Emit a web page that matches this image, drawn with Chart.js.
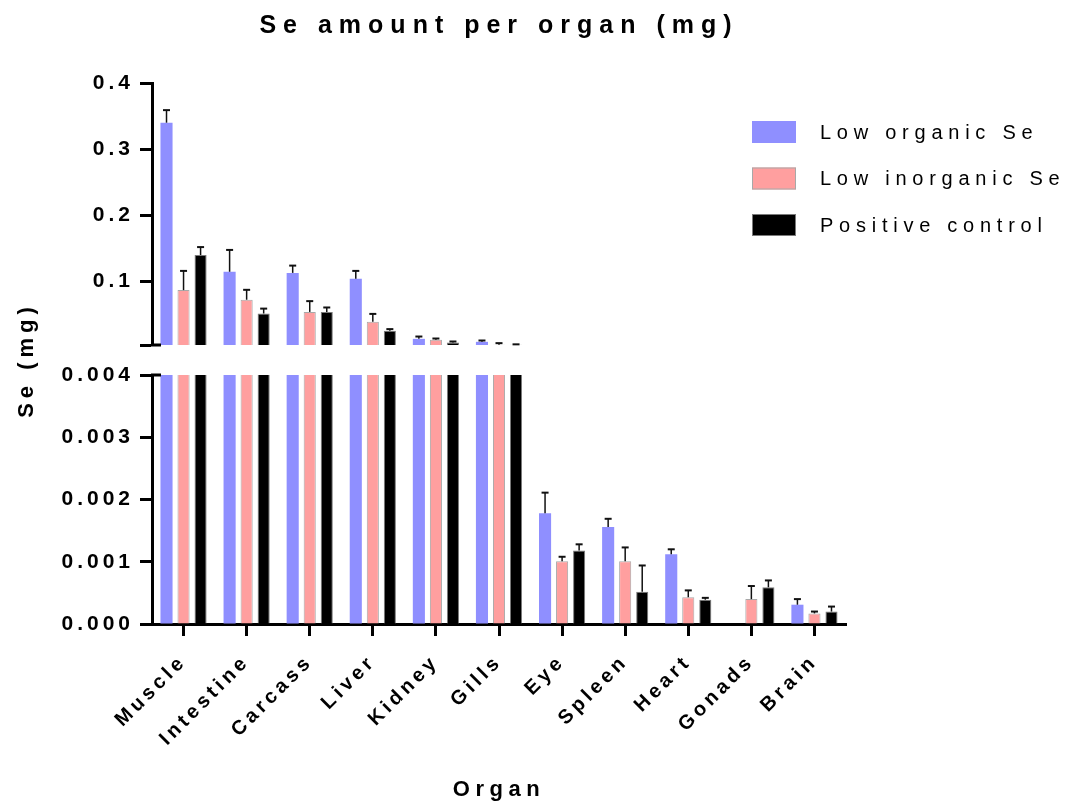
<!DOCTYPE html>
<html>
<head>
<meta charset="utf-8">
<script src="https://cdn.jsdelivr.net/npm/chart.js@4.4.0/dist/chart.umd.min.js"></script>
<style>
  html, body { margin: 0; padding: 0; background: #fff; }
  canvas { display: block; }
</style>
</head>
<body>
<canvas id="myChart" width="1077" height="804"></canvas>
<script>
// data (mg), error = upper SD whisker
const organs = ['Muscle', 'Intestine', 'Carcass', 'Liver', 'Kidney', 'Gills', 'Eye', 'Spleen', 'Heart', 'Gonads', 'Brain'];
const lowOrganic = [0.340, 0.1147, 0.113, 0.104, 0.0133, 0.0088, 0.00178, 0.00156, 0.00112, null, 0.00031];
const lowOrganicErr = [0.019, 0.033, 0.011, 0.012, 0.0035, 0.002, 0.00033, 0.00013, 0.00008, null, 0.00009];
const lowInorganic = [0.087, 0.0724, 0.054, 0.039, 0.0118, 0.0043, 0.00101, 0.00101, 0.00043, 0.00040, 0.00017];
const lowInorganicErr = [0.029, 0.015, 0.0163, 0.012, 0.002, 0.0025, 0.00007, 0.00022, 0.00011, 0.00021, 0.00003];
const positiveControl = [0.140, 0.0516, 0.0537, 0.0255, 0.0078, 0.0043, 0.00118, 0.00052, 0.00039, 0.00059, 0.0002];
const positiveControlErr = [0.012, 0.0074, 0.007, 0.0025, 0.0015, 0.0007, 0.0001, 0.00042, 0.00003, 0.00011, 0.00008];

const seriesLabels = ['Low organic Se', 'Low inorganic Se', 'Positive control'];
const seriesValues = [lowOrganic, lowInorganic, positiveControl];
const seriesErrors = [lowOrganicErr, lowInorganicErr, positiveControlErr];

// broken y axis: lower part 0..0.004, upper part 0.004..0.4
const lowTicks = [0, 0.001, 0.002, 0.003, 0.004];
const highTicks = [0.004, 0.1, 0.2, 0.3, 0.4];
const highLabels = ['', '0.1', '0.2', '0.3', '0.4'];

const fillColors = ['#8f8fff', '#ff9f9f', '#000000'];
const edgeColors = ['#8f8fff', '#a8a8a8', '#7a7a7a'];
const edgeWidths = [0, 1, 1];

const FONT = '"Liberation Sans", Arial, sans-serif';

function makeDataset(i, axis) {
    return {
        label: seriesLabels[i],
        data: seriesValues[i],
        errors: seriesErrors[i],
        yAxisID: axis,
        stack: 's' + i,
        backgroundColor: fillColors[i],
        borderColor: edgeColors[i],
        borderWidth: edgeWidths[i],
        barPercentage: 0.71,
        categoryPercentage: 0.81,
        clip: 0,
    };
}

const datasets = [0, 1, 2].map(i => makeDataset(i, 'yLow'))
    .concat([0, 1, 2].map(i => makeDataset(i, 'yHigh')));

// prism style letter spacing, a bit wider for the titles
function spaced(chart, obj, method, px) {
    if (!obj || obj['_sp_' + method]) return;
    const fn = obj[method].bind(obj);
    obj[method] = function (...args) {
        const c = chart.ctx;
        const old = c.letterSpacing;
        c.letterSpacing = px;
        fn(...args);
        c.letterSpacing = old;
    };
    obj['_sp_' + method] = true;
}

const spacing = {
    id: 'spacing',
    beforeUpdate(chart) { chart.ctx.letterSpacing = '4px'; },
    beforeDraw(chart) {
        chart.ctx.letterSpacing = '4px';
        spaced(chart, chart.titleBlock, 'draw', '7px');
        spaced(chart, chart.scales.x, 'drawTitle', '5.5px');
        spaced(chart, chart.scales.yGap, 'drawTitle', '5px');
    }
};

const errorBars = {
    id: 'errorBars',
    afterDatasetsDraw(chart) {
        const ctx = chart.ctx;
        ctx.save();
        ctx.strokeStyle = '#111';
        chart.data.datasets.forEach((ds, di) => {
            const meta = chart.getDatasetMeta(di);
            const y = chart.scales[ds.yAxisID];
            meta.data.forEach((bar, k) => {
                const v = ds.data[k];
                const e = ds.errors[k];
                if (v == null || e == null) return;
                if (v <= y.min || v > y.max) return;
                const y0 = y.getPixelForValue(v);
                const y1 = y.getPixelForValue(v + e);
                ctx.lineWidth = 1.5;
                ctx.beginPath();
                ctx.moveTo(bar.x, y0);
                ctx.lineTo(bar.x, y1);
                ctx.stroke();
                ctx.lineWidth = 2;
                ctx.beginPath();
                ctx.moveTo(bar.x - 3.5, y1);
                ctx.lineTo(bar.x + 3.5, y1);
                ctx.stroke();
            });
        });
        // little marks where the axis is broken
        const hi = chart.scales.yHigh;
        const lo = chart.scales.yLow;
        ctx.strokeStyle = '#000';
        ctx.lineWidth = 3;
        ctx.beginPath();
        ctx.moveTo(hi.right - 1, hi.bottom);
        ctx.lineTo(hi.right + 9, hi.bottom);
        ctx.moveTo(lo.right - 1, lo.top);
        ctx.lineTo(lo.right + 9, lo.top);
        ctx.stroke();
        ctx.restore();
    }
};

const boxLegend = {
    id: 'boxLegend',
    afterDraw(chart) {
        const ctx = chart.ctx;
        const x = 752, y = 121, w = 44, h = 22, row = 46.5;
        ctx.save();
        ctx.font = '20px ' + FONT;
        ctx.letterSpacing = '5.75px';
        ctx.textBaseline = 'middle';
        ctx.textAlign = 'left';
        seriesLabels.forEach((label, i) => {
            const top = y + i * row;
            ctx.fillStyle = fillColors[i];
            ctx.fillRect(x, top, w, h);
            if (edgeWidths[i]) {
                ctx.strokeStyle = edgeColors[i];
                ctx.lineWidth = 1;
                ctx.strokeRect(x + 0.5, top + 0.5, w - 1, h - 1);
            }
            ctx.fillStyle = '#000';
            ctx.fillText(label, x + w + 24, top + h / 2 + 1);
        });
        ctx.restore();
    }
};

const tickFont = { family: FONT, size: 21, weight: 'bold' };
const axisGrid = {
    display: true,
    drawOnChartArea: false,
    drawTicks: true,
    tickLength: 12,
    tickWidth: 3,
    tickColor: '#000',
};
const axisBorder = { display: true, color: '#000', width: 3 };

new Chart(document.getElementById('myChart'), {
    type: 'bar',
    data: { labels: organs, datasets: datasets },
    plugins: [spacing, errorBars, boxLegend],
    options: {
        responsive: false,
        animation: false,
        events: [],
        layout: { padding: { left: 0, right: 231, top: 0, bottom: 0 } },
        plugins: {
            legend: { display: false },
            tooltip: { enabled: false },
            title: {
                display: true,
                fullSize: false,
                text: 'Se amount per organ (mg)',
                color: '#000',
                font: { family: FONT, size: 25, weight: 'bold' },
                padding: { top: 11, bottom: 42 },
            },
        },
        scales: {
            x: {
                stacked: true,
                offset: true,
                grid: Object.assign({}, axisGrid, { offset: false }),
                border: axisBorder,
                ticks: {
                    color: '#000',
                    font: { family: FONT, size: 20, weight: 'bold' },
                    minRotation: 45,
                    maxRotation: 45,
                    autoSkip: false,
                    padding: 14,
                },
                title: {
                    display: true,
                    text: 'Organ',
                    color: '#000',
                    font: { family: FONT, size: 22, weight: 'bold' },
                    padding: { top: 0, bottom: 1 },
                },
                afterFit(scale) { scale.height = 180; },
            },
            yHigh: {
                type: 'linear',
                position: 'left',
                stack: 'y',
                stackWeight: 262,
                weight: 3,
                stacked: false,
                min: 0.004,
                max: 0.4,
                grid: axisGrid,
                border: axisBorder,
                ticks: {
                    color: '#000',
                    font: tickFont,
                    padding: 6,
                    callback: (v, i) => highLabels[i],
                },
                afterBuildTicks(scale) { scale.ticks = highTicks.map(v => ({ value: v })); },
                afterFit(scale) { scale.width = 152; },
            },
            yGap: {
                type: 'linear',
                position: 'left',
                stack: 'y',
                stackWeight: 30,
                weight: 2,
                min: 0,
                max: 1,
                grid: { display: false },
                border: { display: false },
                ticks: { display: false },
                title: {
                    display: true,
                    text: 'Se (mg)',
                    color: '#000',
                    font: { family: FONT, size: 22, weight: 'bold' },
                    padding: { top: 14, bottom: 0 },
                },
                afterFit(scale) { scale.width = 152; },
            },
            yLow: {
                type: 'linear',
                position: 'left',
                stack: 'y',
                stackWeight: 249,
                weight: 1,
                stacked: false,
                min: 0,
                max: 0.004,
                grid: axisGrid,
                border: axisBorder,
                ticks: {
                    color: '#000',
                    font: tickFont,
                    padding: 6,
                    callback: (v) => v.toFixed(3),
                },
                afterBuildTicks(scale) { scale.ticks = lowTicks.map(v => ({ value: v })); },
                afterFit(scale) { scale.width = 152; },
            },
        },
    },
});
</script>
</body>
</html>
